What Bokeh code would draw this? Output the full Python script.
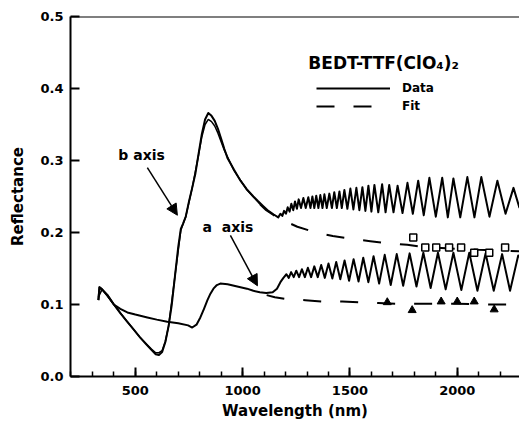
from bokeh.plotting import figure
from bokeh.models import (Label, Arrow, NormalHead, Span, Legend, LegendItem,
                          SingleIntervalTicker, PrintfTickFormatter)
from bokeh.embed import file_html
from bokeh.resources import INLINE

# ---------------- data (wavelength in nm, reflectance) ----------------
b_smooth_nm = [328, 333, 345, 370, 400, 430, 460, 490, 520, 550, 575, 595, 610, 625, 640,
               655, 670, 685, 700, 712, 722, 735, 750, 765, 780, 795, 810, 825, 840, 855,
               870, 885, 900, 915, 930, 960, 990, 1020, 1050, 1070, 1095, 1120, 1145]
b_smooth_R = [0.106, 0.124, 0.121, 0.113, 0.100, 0.088, 0.077, 0.066, 0.055, 0.045, 0.037,
              0.031, 0.030, 0.034, 0.048, 0.070, 0.100, 0.140, 0.180, 0.205, 0.212, 0.222,
              0.243, 0.262, 0.282, 0.310, 0.337, 0.357, 0.366, 0.362, 0.355, 0.344, 0.330,
              0.316, 0.303, 0.287, 0.272, 0.260, 0.250, 0.244, 0.237, 0.230, 0.225]

b_fringe_nm = [1166, 1176, 1185, 1193, 1202, 1210, 1219, 1227, 1236, 1244, 1253, 1261, 1272,
               1283, 1294, 1306, 1316, 1325, 1334, 1343, 1353, 1362, 1372, 1381, 1392, 1404,
               1416, 1427, 1439, 1451, 1462, 1474, 1488, 1502, 1516, 1530, 1544, 1558, 1572,
               1586, 1600, 1614, 1632, 1650, 1666, 1683, 1703, 1722, 1745, 1768, 1793, 1818,
               1844, 1870, 1900, 1930, 1956, 1982, 2014, 2047, 2080, 2112, 2150, 2187, 2225,
               2262, 2290]
b_fringe_R = [0.221, 0.226, 0.223, 0.230, 0.226, 0.235, 0.229, 0.240, 0.231, 0.243, 0.233,
              0.246, 0.234, 0.248, 0.234, 0.249, 0.234, 0.250, 0.234, 0.251, 0.234, 0.252,
              0.234, 0.253, 0.234, 0.254, 0.234, 0.256, 0.234, 0.257, 0.234, 0.259, 0.233,
              0.261, 0.232, 0.262, 0.231, 0.263, 0.230, 0.265, 0.229, 0.266, 0.228, 0.267,
              0.228, 0.266, 0.228, 0.265, 0.227, 0.269, 0.226, 0.272, 0.224, 0.276, 0.222,
              0.276, 0.221, 0.275, 0.221, 0.277, 0.221, 0.277, 0.222, 0.272, 0.226, 0.262,
              0.234]

a_smooth_nm = [328, 333, 345, 370, 400, 430, 463, 500, 556, 600, 649, 700, 746, 765, 785,
               803, 820, 836, 850, 864, 880, 896, 930, 960, 990, 1020, 1050, 1080, 1110,
               1140, 1160, 1176, 1190]
a_smooth_R = [0.106, 0.124, 0.121, 0.113, 0.100, 0.094, 0.089, 0.086, 0.082, 0.079, 0.076,
              0.074, 0.071, 0.068, 0.072, 0.082, 0.094, 0.106, 0.115, 0.122, 0.127, 0.129,
              0.128, 0.126, 0.124, 0.122, 0.119, 0.117, 0.116, 0.117, 0.122, 0.131, 0.137]

a_fringe_nm = [1204, 1215, 1226, 1238, 1250, 1263, 1276, 1290, 1304, 1319, 1334, 1350, 1366,
               1383, 1400, 1418, 1436, 1455, 1475, 1496, 1517, 1540, 1562, 1586, 1610, 1636,
               1662, 1690, 1718, 1748, 1778, 1810, 1842, 1876, 1910, 1946, 1982, 2019, 2056,
               2094, 2132, 2170, 2209, 2246, 2284, 2290]
a_fringe_R = [0.142, 0.137, 0.145, 0.138, 0.147, 0.138, 0.149, 0.138, 0.151, 0.138, 0.153,
              0.138, 0.155, 0.137, 0.157, 0.136, 0.159, 0.135, 0.161, 0.133, 0.163, 0.132,
              0.165, 0.131, 0.167, 0.129, 0.169, 0.127, 0.170, 0.126, 0.171, 0.125, 0.172,
              0.123, 0.172, 0.121, 0.172, 0.120, 0.172, 0.119, 0.171, 0.119, 0.170, 0.119,
              0.168, 0.166]

fit_b_near_nm = [328, 345, 400, 460, 520, 575, 595, 610, 625, 640, 655, 685, 712, 735, 765,
                 795, 810, 825, 840, 855, 870, 885, 915, 960, 1020, 1070, 1082]
fit_b_near_R = [0.110, 0.121, 0.100, 0.077, 0.055, 0.038, 0.033, 0.033, 0.036, 0.049, 0.070,
                0.140, 0.203, 0.222, 0.262, 0.308, 0.333, 0.350, 0.357, 0.354, 0.348, 0.338,
                0.314, 0.286, 0.259, 0.243, 0.239]
fit_b_far_nm = [1082, 1110, 1140, 1166, 1210, 1255, 1340, 1420, 1510, 1595, 1680, 1767, 1837,
                1950, 2100, 2290]
fit_b_far_R = [0.239, 0.231, 0.225, 0.220, 0.214, 0.208, 0.200, 0.195, 0.191, 0.188, 0.185,
               0.183, 0.180, 0.178, 0.176, 0.174]
fit_a_far_nm = [1112, 1150, 1195, 1250, 1292, 1376, 1464, 1548, 1632, 1720, 1813, 1900, 2000,
                2150, 2290]
fit_a_far_R = [0.113, 0.110, 0.108, 0.107, 0.106, 0.104, 0.104, 0.103, 0.102, 0.101, 0.101,
               0.101, 0.101, 0.100, 0.100]

b_points_nm = [1795, 1851, 1902, 1962, 2018, 2079, 2149, 2223]
b_points_R = [0.193, 0.179, 0.179, 0.179, 0.179, 0.172, 0.172, 0.179]
a_points_nm = [1674, 1790, 1925, 2000, 2079, 2172]
a_points_R = [0.103, 0.092, 0.104, 0.104, 0.104, 0.093]

x_ticks_interval = 500
y_ticks_interval = 0.1

# ---------------- figure ----------------
FONT = "DejaVu Sans"
p = figure(width=519, height=423, x_range=(198, 2290), y_range=(0, 0.5),
           output_backend="svg", toolbar_location=None,
           min_border_left=70, min_border_right=0, min_border_top=16, min_border_bottom=47)
p.outline_line_color = None
p.xgrid.visible = False
p.ygrid.visible = False
p.background_fill_color = "white"

p.xaxis.ticker = SingleIntervalTicker(interval=x_ticks_interval, num_minor_ticks=5)
p.yaxis.ticker = SingleIntervalTicker(interval=y_ticks_interval, num_minor_ticks=0)
p.yaxis.formatter = PrintfTickFormatter(format="%.1f")
p.xaxis.axis_label = "Wavelength (nm)"
p.yaxis.axis_label = "Reflectance"
for ax in p.axis:
    ax.axis_line_width = 2
    ax.axis_line_color = "black"
    ax.major_tick_in = 9
    ax.major_tick_out = 0
    ax.minor_tick_in = 5
    ax.minor_tick_out = 0
    ax.major_tick_line_width = 2
    ax.minor_tick_line_width = 1.5
    ax.major_tick_line_color = "black"
    ax.minor_tick_line_color = "black"
    ax.major_label_text_font = FONT
    ax.major_label_text_font_style = "bold"
    ax.major_label_text_font_size = "13px"
    ax.major_label_text_color = "black"
    ax.axis_label_text_font = FONT
    ax.axis_label_text_font_style = "bold"
    ax.axis_label_text_font_size = "15px"
    ax.axis_label_text_color = "black"
p.xaxis.major_label_standoff = 9
p.xaxis.axis_label_standoff = 4
p.yaxis.major_label_standoff = 7
p.yaxis.axis_label_standoff = 10

p.add_layout(Span(location=0.5, dimension="width", line_color="black", line_width=2))

# data curves
r_b = p.line(b_smooth_nm + b_fringe_nm, b_smooth_R + b_fringe_R,
             line_color="black", line_width=2, line_join="round")
p.line(a_smooth_nm + a_fringe_nm, a_smooth_R + a_fringe_R,
       line_color="black", line_width=2, line_join="round")

# fits
p.line(fit_b_near_nm, fit_b_near_R, line_color="black", line_width=1.5)
r_fit = p.line(fit_b_far_nm, fit_b_far_R, line_color="black", line_width=2, line_dash="18 19")
p.line(fit_a_far_nm, fit_a_far_R, line_color="black", line_width=2, line_dash="18 19")

# measured points
p.scatter(b_points_nm, b_points_R, marker="square", size=7, fill_color="white",
          line_color="black", line_width=1.5)
p.scatter(a_points_nm, a_points_R, marker="triangle", size=8, fill_color="black",
          line_color="black")

# annotations
p.add_layout(Label(x=421, y=0.307, text="b axis", text_font=FONT, text_font_style="bold",
                   text_font_size="14px", text_baseline="middle", text_color="black"))
p.add_layout(Label(x=813, y=0.207, text="a\u00a0\u00a0axis", text_font=FONT,
                   text_font_style="bold", text_font_size="14px", text_baseline="middle",
                   text_color="black"))
p.add_layout(Arrow(end=NormalHead(size=11, fill_color="black", line_color="black"),
                   x_start=556, y_start=0.290, x_end=696, y_end=0.224, line_width=1.5))
p.add_layout(Arrow(end=NormalHead(size=11, fill_color="black", line_color="black"),
                   x_start=943, y_start=0.196, x_end=1069, y_end=0.126, line_width=1.5))
p.add_layout(Label(x=1306, y=0.436, text="BEDT-TTF(ClO\u2084)\u2082", text_font=FONT,
                   text_font_style="bold", text_font_size="17px", text_baseline="middle",
                   text_color="black"))

legend = Legend(items=[LegendItem(label="Data", renderers=[r_b]),
                       LegendItem(label="Fit", renderers=[r_fit])],
                location=(246, 262), glyph_width=74, glyph_height=16, label_height=16,
                label_standoff=12, padding=0, margin=0, spacing=2,
                border_line_color=None, background_fill_alpha=0,
                label_text_font=FONT, label_text_font_style="bold",
                label_text_font_size="12px", label_text_color="black")
p.add_layout(legend)

open("out.html", "w").write(file_html(p, INLINE))
